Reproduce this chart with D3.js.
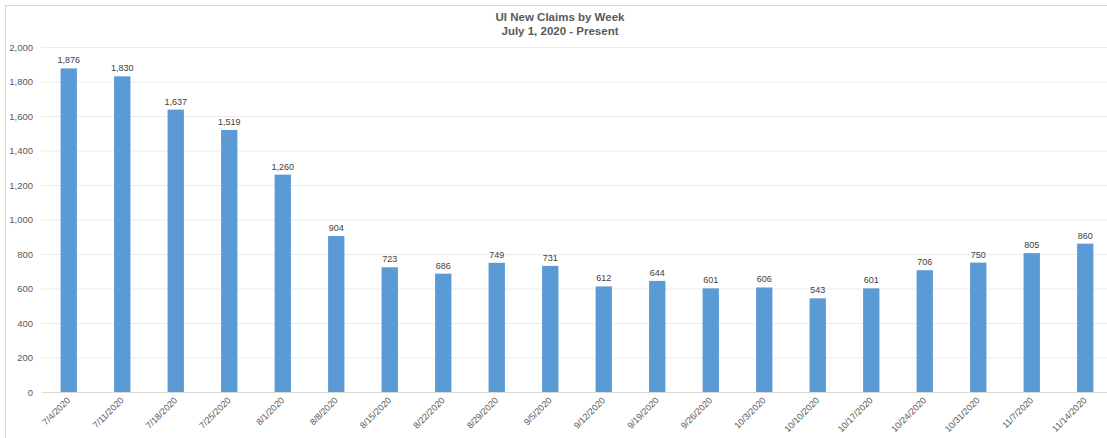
<!DOCTYPE html>
<html><head><meta charset="utf-8">
<script src="https://cdn.jsdelivr.net/npm/d3@7"></script>
<style>body{margin:0;background:#fff}svg{display:block;font-family:"Liberation Sans",Arial,sans-serif}</style>
</head><body><svg id="c" width="1107" height="438"></svg>
<script>
const categories = ["7/4/2020","7/11/2020","7/18/2020","7/25/2020","8/1/2020","8/8/2020","8/15/2020","8/22/2020","8/29/2020","9/5/2020","9/12/2020","9/19/2020","9/26/2020","10/3/2020","10/10/2020","10/17/2020","10/24/2020","10/31/2020","11/7/2020","11/14/2020"];
const claims = [1876,1830,1637,1519,1260,904,723,686,749,731,612,644,601,606,543,601,706,750,805,860];
const yTicks = [0,200,400,600,800,1000,1200,1400,1600,1800,2000];
const titleLines = ["UI New Claims by Week","July 1, 2020 - Present"];

const svg = d3.select("#c");
const x = d3.scaleBand().domain(categories).range([42,1112]).paddingInner(0.695).paddingOuter(0.3475);
const y = d3.scaleLinear().domain([0,2000]).range([392,47]);
const fmt = d3.format(",");

svg.append("rect").attr("x",5.5).attr("y",5.5).attr("width",1200).attr("height",600)
  .attr("fill","none").attr("stroke","#d9d9d9");

const yAxis = svg.append("g").attr("transform","translate(41,0)")
  .call(d3.axisLeft(y).tickValues(yTicks).tickFormat(fmt).tickSize(-1080).tickPadding(8));
yAxis.select(".domain").remove();
yAxis.selectAll(".tick line").attr("stroke","#ebebeb");
yAxis.selectAll(".tick text").attr("fill","#595959").style("font-size","9.5px");

svg.append("g").selectAll("rect").data(claims).join("rect")
  .attr("x",(d,i)=>x(categories[i])).attr("width",x.bandwidth())
  .attr("y",d=>y(d)).attr("height",d=>y(0)-y(d))
  .attr("fill","#5b9bd5");

svg.append("g").selectAll("text").data(claims).join("text")
  .attr("x",(d,i)=>x(categories[i])+x.bandwidth()/2).attr("y",d=>y(d)-5)
  .attr("text-anchor","middle").attr("fill","#404040").style("font-size","9px")
  .text(d=>fmt(d));

const xAxis = svg.append("g").attr("transform","translate(0,392)")
  .call(d3.axisBottom(x).tickSize(0).tickPadding(0));
xAxis.select(".domain").attr("stroke","#d9d9d9");
xAxis.selectAll(".tick text").attr("fill","#595959").style("font-size","9px")
  .attr("text-anchor","end").attr("dy",null)
  .attr("transform","translate(2,9) rotate(-45)");

svg.append("g").selectAll("text").data(titleLines).join("text")
  .attr("x",560).attr("y",(d,i)=>21+i*14).attr("text-anchor","middle")
  .attr("fill","#595959").style("font-size","11.5px").style("font-weight","bold")
  .text(d=>d);
</script></body></html>
